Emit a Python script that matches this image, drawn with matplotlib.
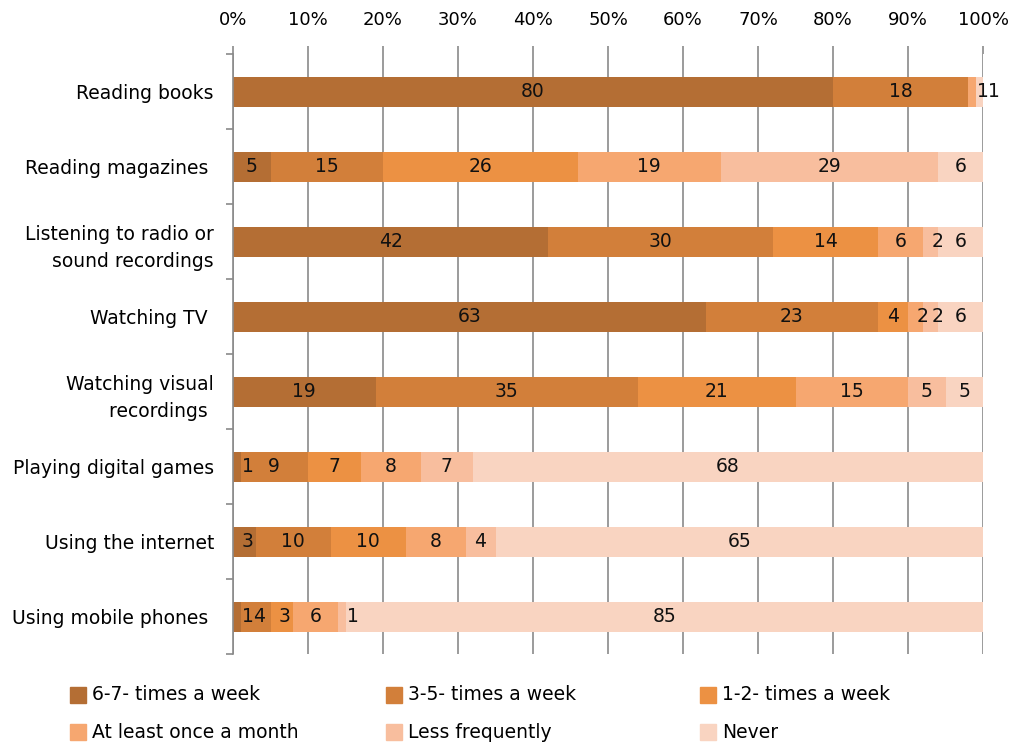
import matplotlib
matplotlib.use("Agg")
import matplotlib.pyplot as plt
import numpy as np
from matplotlib.patches import Rectangle
from matplotlib.transforms import offset_copy

plt.rcParams['font.family'] = ['DejaVu Sans']

categories = [
    "Reading books",
    "Reading magazines ",
    "Listening to radio or\nsound recordings",
    "Watching TV ",
    "Watching visual\nrecordings ",
    "Playing digital games",
    "Using the internet",
    "Using mobile phones ",
]

series_names = [
    "6-7- times a week",
    "3-5- times a week",
    "1-2- times a week",
    "At least once a month",
    "Less frequently",
    "Never",
]

freq_6_7 = [80, 5, 42, 63, 19, 1, 3, 1]
freq_3_5 = [18, 15, 30, 23, 35, 9, 10, 4]
freq_1_2 = [0, 26, 14, 4, 21, 7, 10, 3]
monthly = [1, 19, 6, 2, 15, 8, 8, 6]
less_freq = [0, 29, 2, 2, 5, 7, 4, 1]
never = [1, 6, 6, 6, 5, 68, 65, 85]

colors = ["#B46E34", "#D27F3A", "#EC9143", "#F6A770", "#F8BE9E", "#F9D4C1"]

x_ticks = [0, 10, 20, 30, 40, 50, 60, 70, 80, 90, 100]
x_tick_labels = [f"{v}%" for v in x_ticks]

FS = 13
FS_CAT = 13.5
FS_BAR = 13.5
W, H = 1021, 744
fig = plt.figure(figsize=(W / 100, H / 100), dpi=100)
ax = fig.add_axes([233 / W, 1 - 654 / H, 750 / W, 600 / H])

ax.set_xlim(0, 100)
ax.set_ylim(len(categories) - 0.5, -0.5)

series = [freq_6_7, freq_3_5, freq_1_2, monthly, less_freq, never]
y = np.arange(len(categories))
left = np.zeros(len(categories))
renderer = fig.canvas.get_renderer()
px_per_unit = 750 / 100
label_pad_px = 8.5
last_right = [-np.inf] * len(categories)

for vals, col in zip(series, colors):
    vals = np.array(vals, dtype=float)
    ax.barh(y, vals, left=left, height=0.4, color=col, zorder=2)
    for yi, (l, v) in enumerate(zip(left, vals)):
        if v <= 0:
            continue
        t = ax.text(l + v / 2, yi, f"{int(v)}", ha="center", va="center",
                    fontsize=FS_BAR, color="#111111", zorder=3)
        bb = t.get_window_extent(renderer)
        seg_left_px = ax.transData.transform((l, yi))[0]
        # narrow segments: label box is anchored at the segment's left edge
        if bb.width + 2 * label_pad_px > v * px_per_unit:
            start = max(seg_left_px + label_pad_px, last_right[yi])
            t.set_x(l)
            t.set_ha("left")
            t.set_transform(offset_copy(ax.transData, fig=fig,
                                        x=start - seg_left_px, y=0, units="dots"))
            last_right[yi] = start + bb.width
        else:
            if bb.x0 < last_right[yi]:
                shift = last_right[yi] - bb.x0
                t.set_transform(offset_copy(ax.transData, fig=fig,
                                            x=shift, y=0, units="dots"))
                last_right[yi] = bb.x1 + shift
            else:
                last_right[yi] = bb.x1
    left += vals

ax.xaxis.tick_top()
ax.set_xticks(x_ticks)
ax.set_xticklabels(x_tick_labels, fontsize=FS)
ax.tick_params(axis="x", length=5.8, color="#8a8a8a", width=1.2, pad=12)
ax.grid(axis="x", color="#8a8a8a", linewidth=1.2, zorder=0)

ax.set_yticks(y)
ax.set_yticklabels(categories, fontsize=FS_CAT, ha="right", linespacing=1.55)
ax.set_yticks(np.arange(-0.5, len(categories)), minor=True)
ax.tick_params(axis="y", which="major", length=0, pad=13.7)
ax.tick_params(axis="y", which="minor", length=5, color="#8a8a8a", width=1.2)

for side in ("top", "right", "bottom"):
    ax.spines[side].set_visible(False)
ax.spines["left"].set_color("#8a8a8a")
ax.spines["left"].set_linewidth(1.2)

# legend laid out in three columns below the plot
col_x = [70, 386, 700]
row_y = [695, 732]
for i, (name, col) in enumerate(zip(series_names, colors)):
    cx = col_x[i % 3]
    cy = row_y[i // 3]
    fig.patches.append(Rectangle((cx / W, 1 - (cy + 8) / H), 16 / W, 16 / H,
                                 transform=fig.transFigure, color=col))
    fig.text((cx + 22) / W, 1 - cy / H, name, fontsize=FS_CAT, va="center", ha="left")

fig.savefig("out.png", dpi=100)
